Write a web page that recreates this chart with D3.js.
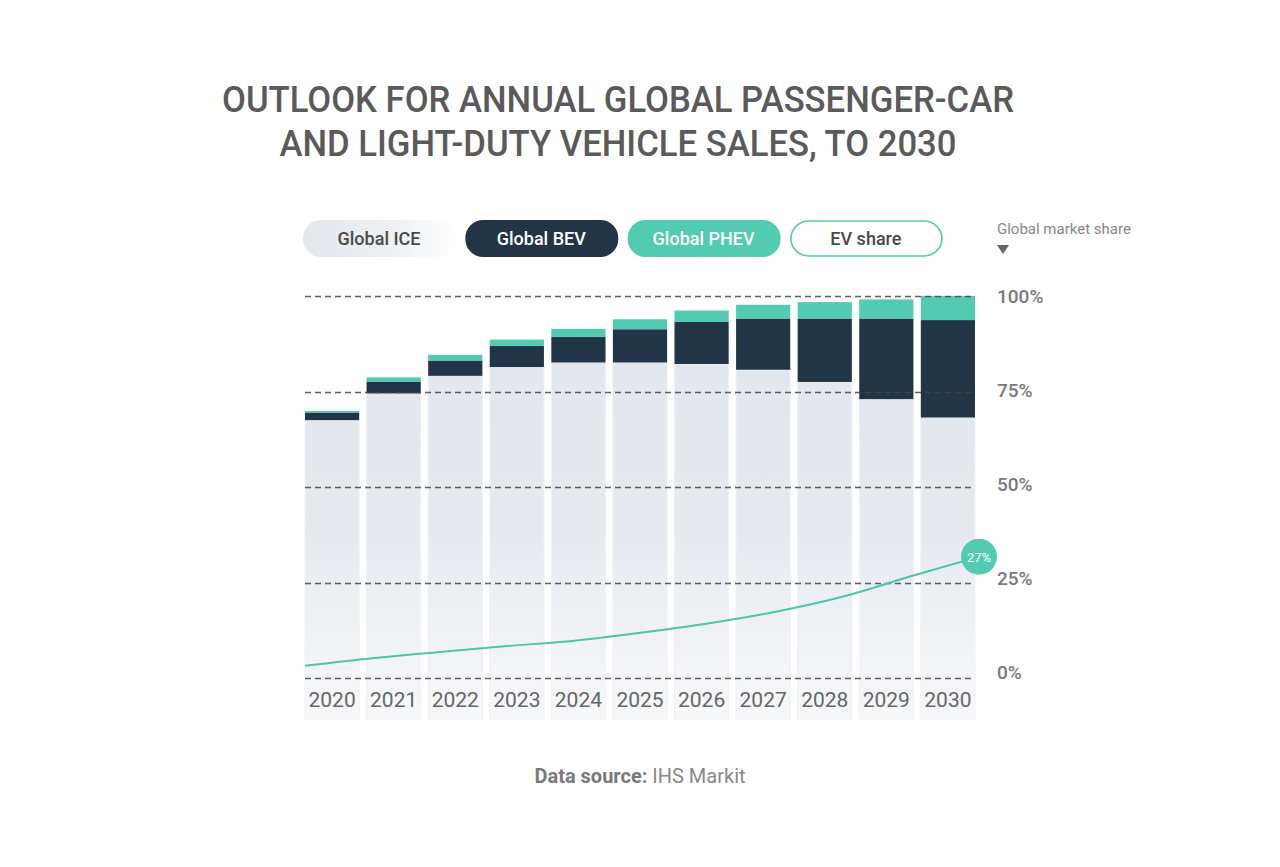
<!DOCTYPE html>
<html>
<head>
<meta charset="utf-8">
<script src="https://cdn.jsdelivr.net/npm/d3@7"></script>
<style>
  html, body { margin: 0; padding: 0; background: #fff; }
  svg { display: block; font-family: Roboto, "Open Sans", sans-serif; }
</style>
</head>
<body>
<svg id="chart" width="1280" height="867"></svg>
<script>
const years = ['2020', '2021', '2022', '2023', '2024', '2025', '2026', '2027', '2028', '2029', '2030']
const iceShare = [67.5, 74.5, 79.1, 81.4, 82.6, 82.6, 82.2, 80.7, 77.5, 73.0, 68.2]
const bevShare = [2.0, 3.1, 4.0, 5.5, 6.7, 8.7, 11.0, 13.4, 16.6, 21.1, 25.5]
const phevShare = [0.4, 1.1, 1.5, 1.7, 2.1, 2.6, 3.0, 3.6, 4.3, 5.0, 6.3]
const evShare = [2.7, 4.4, 5.8, 7.1, 8.3, 10.1, 12.2, 14.8, 18.2, 22.7, 27.0]
const yTicks = [0, 25, 50, 75, 100]
const legendItems = ['Global ICE', 'Global BEV', 'Global PHEV', 'EV share']

const colors = {ice: '#e3e8ed', bev: '#213547', phev: '#52cbb0', line: '#4cc6ab'}

const svg = d3.select('#chart')
const defs = svg.append('defs')

const barGrad = defs.append('linearGradient')
  .attr('id', 'bar-grad')
  .attr('gradientUnits', 'userSpaceOnUse')
  .attr('x1', 0).attr('x2', 0).attr('y1', 296).attr('y2', 720)
barGrad.append('stop').attr('offset', '0').attr('stop-color', '#e1e6ec')
barGrad.append('stop').attr('offset', '0.55').attr('stop-color', '#e6eaef')
barGrad.append('stop').attr('offset', '1').attr('stop-color', '#f7f8fa')

const pillGrad = defs.append('linearGradient')
  .attr('id', 'pill-grad')
  .attr('x1', 0).attr('x2', 1).attr('y1', 0).attr('y2', 0)
pillGrad.append('stop').attr('offset', '0').attr('stop-color', '#e3e8ed')
pillGrad.append('stop').attr('offset', '0.6').attr('stop-color', '#eef1f4')
pillGrad.append('stop').attr('offset', '1').attr('stop-color', '#ffffff')

// title
const title = svg.append('g').attr('fill', '#5a5a5a')
  .attr('font-weight', 500).attr('font-size', 37).attr('text-anchor', 'middle')
title.append('text').attr('x', 618).attr('y', 112)
  .attr('textLength', 792).attr('lengthAdjust', 'spacingAndGlyphs')
  .text('OUTLOOK FOR ANNUAL GLOBAL PASSENGER-CAR')
title.append('text').attr('x', 618).attr('y', 156)
  .attr('textLength', 677).attr('lengthAdjust', 'spacingAndGlyphs')
  .text('AND LIGHT-DUTY VEHICLE SALES, TO 2030')

// legend
const legend = svg.append('g').attr('transform', 'translate(303, 220)')
const pill = legend.selectAll('g')
  .data(legendItems)
  .join('g')
  .attr('transform', (d, i) => `translate(${i * 162.3}, 0)`)
pill.append('rect')
  .attr('x', (d, i) => i == 3 ? 1 : 0)
  .attr('y', (d, i) => i == 3 ? 1 : 0)
  .attr('width', (d, i) => i == 3 ? 151 : 153)
  .attr('height', (d, i) => i == 3 ? 35 : 37)
  .attr('rx', 18)
  .attr('fill', (d, i) => ['url(#pill-grad)', colors.bev, colors.phev, '#fff'][i])
  .attr('stroke', (d, i) => i == 3 ? colors.phev : 'none')
  .attr('stroke-width', 1.6)
pill.append('text')
  .attr('x', 76).attr('y', 25)
  .attr('text-anchor', 'middle')
  .attr('font-size', 18).attr('font-weight', 500)
  .attr('fill', (d, i) => i == 1 || i == 2 ? '#fff' : '#4a4a4a')
  .text(d => d)

svg.append('text')
  .attr('x', 997).attr('y', 234)
  .attr('font-size', 15).attr('fill', '#888')
  .text('Global market share')
svg.append('path')
  .attr('d', 'M997,245 L1009,245 L1003,254 Z')
  .attr('fill', '#666')

// scales
const x = d3.scaleBand().domain(years).range([305, 975]).paddingInner(0.12).paddingOuter(0)
const y = d3.scaleLinear().domain([0, 100]).range([678, 296])
const shareY = d3.scaleLinear().domain([0, 85]).range([678, 296])
const lineX = d3.scalePoint().domain(years).range([305, 979])

const data = years.map((yr, i) => ({year: yr, ice: iceShare[i], bev: bevShare[i], phev: phevShare[i]}))
const stack = d3.stack().keys(['ice', 'bev', 'phev'])(data)

// bars
const bars = svg.append('g')
bars.selectAll('rect.base')
  .data(data)
  .join('rect')
  .attr('class', 'base')
  .attr('x', d => x(d.year))
  .attr('y', d => y(d.ice))
  .attr('width', x.bandwidth())
  .attr('height', d => y(0) + 41 - y(d.ice))
  .attr('fill', 'url(#bar-grad)')
  .attr('stroke', '#eef1f4')
  .attr('stroke-width', 1)

stack.slice(1).forEach(layer => {
  bars.append('g')
    .selectAll('rect')
    .data(layer)
    .join('rect')
    .attr('x', d => x(d.data.year))
    .attr('y', d => y(d[1]))
    .attr('width', x.bandwidth())
    .attr('height', d => y(d[0]) - y(d[1]))
    .attr('fill', colors[layer.key])
})

// grid lines on top
svg.append('g')
  .selectAll('line')
  .data(yTicks)
  .join('line')
  .attr('x1', 305).attr('x2', 975)
  .attr('y1', d => Math.round(y(d)) + 0.5)
  .attr('y2', d => Math.round(y(d)) + 0.5)
  .attr('stroke', '#444')
  .attr('stroke-opacity', 0.85)
  .attr('stroke-width', 1.3)
  .attr('stroke-dasharray', '6,4')

// right axis (labels sit slightly above the lower grid lines)
const axisY = d3.axisRight(y).tickValues(yTicks).tickFormat(d => d + '%').tickSize(0).tickPadding(0)
const gy = svg.append('g').attr('transform', 'translate(997, 0)').call(axisY)
gy.select('.domain').remove()
gy.selectAll('text')
  .attr('font-family', 'Roboto, sans-serif')
  .attr('font-size', 19).attr('font-weight', 500)
  .attr('fill', '#7a7a7a')
  .attr('transform', d => `translate(0, ${-6 * (1 - d / 100)})`)

// year labels
const axisX = d3.axisBottom(x).tickSize(0).tickPadding(14)
const gx = svg.append('g').attr('transform', `translate(0, ${y(0)})`).call(axisX)
gx.select('.domain').remove()
gx.selectAll('text')
  .attr('font-family', 'Roboto, sans-serif')
  .attr('font-size', 21).attr('font-weight', 400)
  .attr('fill', '#666')

// EV share line
const line = d3.line()
  .x((d, i) => lineX(years[i]))
  .y(d => shareY(d))
  .curve(d3.curveMonotoneX)
svg.append('path')
  .datum(evShare)
  .attr('d', line)
  .attr('fill', 'none')
  .attr('stroke', colors.line)
  .attr('stroke-width', 2)

const last = evShare.length - 1
svg.append('circle')
  .attr('cx', lineX(years[last]))
  .attr('cy', shareY(evShare[last]))
  .attr('r', 18)
  .attr('fill', colors.phev)
svg.append('text')
  .attr('x', lineX(years[last]))
  .attr('y', shareY(evShare[last]) + 5)
  .attr('text-anchor', 'middle')
  .attr('font-size', 13).attr('fill', '#fff')
  .text(evShare[last].toFixed(0) + '%')

// source
const src = svg.append('text')
  .attr('x', 640).attr('y', 783)
  .attr('text-anchor', 'middle')
  .attr('font-size', 20)
src.append('tspan').attr('font-weight', 700).attr('fill', '#7a7a7a').text('Data source: ')
src.append('tspan').attr('fill', '#888').text('IHS Markit')
</script>
</body>
</html>
